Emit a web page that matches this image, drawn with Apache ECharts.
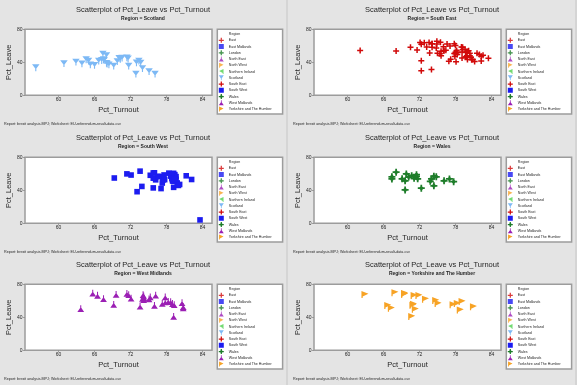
<!DOCTYPE html>
<html><head><meta charset="utf-8">
<script src="https://cdn.jsdelivr.net/npm/echarts@6/dist/echarts.min.js"></script>
<style>html,body{margin:0;padding:0;background:#e4e4e4;}#c{width:577px;height:385px;}</style>
</head><body><div id="c"></div>
<script>
// ---- data ----
const regionNames = ['East','East Midlands','London','North East','North West','Northern Ireland','Scotland','South East','South West','Wales','West Midlands','Yorkshire and The Humber'];
const xTicks = [60, 66, 72, 78, 84];
const yTicks = [0, 40, 80];
const titleText = 'Scatterplot of Pct_Leave vs Pct_Turnout';
const xName = 'Pct_Turnout';
const yName = 'Pct_Leave';
const legendTitle = 'Region';
const footerText = 'Report: brexit analysis.MPJ; Worksheet: EU-referendum-result-data.csv';

const scotland = [[56.2,33.4],[60.9,38.3],[62.9,40.2],[63.9,38.0],[64.6,43.1],[65.0,41.4],[65.3,36.9],[66.0,36.2],[66.7,41.4],[67.2,42.2],[67.4,49.9],[67.5,43.2],[67.6,42.2],[68.0,38.6],[68.0,48.1],[68.1,37.9],[68.4,36.8],[69.2,35.4],[69.8,40.9],[70.1,44.8],[70.3,43.5],[70.6,45.0],[71.4,45.3],[71.6,44.0],[71.7,35.4],[72.9,25.6],[73.0,39.4],[73.4,41.5],[73.7,38.9],[74.0,32.3],[75.1,28.6],[76.1,25.7]];
const southEast = [[76.4,54.6],[77.8,62.5],[77.1,59.9],[78.4,51.8],[78.0,52.1],[76.1,53.9],[74.0,31.4],[75.0,51.0],[75.4,50.3],[77.8,50.7],[83.5,44.9],[73.2,58.4],[75.5,64.2],[76.6,62.2],[74.8,57.3],[78.2,54.2],[78.1,40.7],[80.4,47.9],[79.2,55.1],[73.6,63.9],[74.9,65.4],[76.9,41.2],[82.6,48.4],[71.6,54.9],[74.1,62.4],[72.3,61.9],[77.9,47.1],[76.0,58.8],[72.1,64.1],[80.6,46.1],[73.7,51.4],[82.3,47.4],[79.2,58.1],[72.3,29.7],[70.5,58.1],[72.3,42.0],[78.3,49.5],[79.0,58.6],[76.0,54.0],[74.1,58.2],[80.2,54.0],[74.9,62.2],[62.1,54.3],[78.0,50.3],[80.7,43.2],[68.1,53.8],[78.0,60.3],[79.7,51.9],[74.1,62.5],[80.4,51.0],[79.1,52.5],[72.8,63.8],[79.6,55.7],[79.1,45.1],[80.9,43.3],[82.3,41.7],[80.0,52.8],[79.9,48.0],[79.7,46.3],[81.2,41.1],[79.8,46.6],[77.2,43.8],[80.0,43.3],[75.6,53.5],[75.6,48.0],[81.6,51.0],[82.0,49.4]];
const southWest = [[77.1,42.1],[69.3,54.9],[73.1,38.3],[77.0,56.5],[79.2,43.6],[75.3,58.2],[71.4,59.9],[75.8,54.7],[73.6,63.2],[79.0,51.7],[77.4,52.2],[76.2,52.7],[75.8,42.9],[79.8,48.9],[77.6,58.6],[72.1,58.5],[80.0,45.9],[79.1,53.6],[77.3,48.8],[76.0,61.2],[78.7,57.2],[77.7,52.9],[79.2,60.6],[79.4,59.0],[81.3,57.6],[79.6,56.6],[78.9,59.1],[79.1,51.0],[75.8,61.0],[78.9,54.1],[73.9,44.7],[79.6,53.4],[76.6,57.0],[80.2,47.1],[79.3,53.7],[78.4,60.8],[82.2,53.1],[83.6,4.1]];
const wales = [[68.1,62.0],[71.1,54.6],[70.7,57.6],[69.6,40.5],[74.0,53.7],[74.4,45.4],[71.7,54.0],[69.1,54.0],[74.8,56.4],[72.3,42.5],[73.8,50.9],[67.4,56.4],[77.7,50.4],[71.5,56.8],[70.2,56.0],[74.4,57.1],[77.0,53.7],[67.4,53.7],[69.6,51.5],[69.8,59.8],[76.1,51.5],[71.5,59.0]];
const westMidlands = [[63.7,50.4],[69.2,55.6],[71.7,67.6],[66.5,66.7],[76.0,54.5],[69.6,67.9],[67.5,62.6],[78.3,59.2],[77.3,56.9],[72.1,63.2],[65.7,69.4],[79.3,55.4],[80.8,53.0],[75.1,62.3],[73.6,53.7],[80.6,57.9],[74.0,63.1],[71.4,68.9],[74.3,63.2],[78.7,58.9],[74.2,61.5],[77.8,64.8],[77.8,58.7],[75.3,64.7],[74.1,67.4],[76.2,66.9],[74.2,66.0],[79.0,56.7],[80.8,51.6],[79.2,41.2]];
const yorkshire = [[69.5,68.3],[66.7,54.2],[71.0,55.7],[69.5,69.0],[74.7,60.4],[62.9,67.6],[70.9,54.7],[71.3,49.7],[67.9,69.9],[71.9,66.3],[69.5,67.9],[67.3,51.0],[71.1,66.4],[70.7,41.0],[81.0,52.8],[78.3,56.8],[78.8,48.8],[75.1,56.8],[77.6,55.3],[73.0,62.0],[79.1,59.2]];

const panelRegions = ['Scotland','South East','South West','Wales','West Midlands','Yorkshire and The Humber'];
const panelData = [scotland, southEast, southWest, wales, westMidlands, yorkshire];

// ---- styles ----
const PLUS = 'path://M3,0H5V3H8V5H5V8H3V5H0V3H3Z';
const CROSSD = 'path://M3,0H5V2L6,3H8V5H6L5,6V8H3V6L2,5H0V3H2L3,2Z';
const TENT = 'path://M3.4,0H4.6V3L8,8H0L3.4,3Z';
const FLAGR = 'path://M0,0L8,3.5L1.4,7V9H0Z';
const FLAGL = 'path://M8,0L0,3.5L6.6,7V9H8Z';
const TENTD = 'path://M0,0H8L4.6,5V8H3.4V5Z';
const regionStyle = {
  'East':                     {color:'#d10a0a', symbol:PLUS, size:6},
  'East Midlands':            {color:'#1c1cf0', symbol:'rect', size:5.6},
  'London':                   {color:'#1e7d2a', symbol:CROSSD, size:7},
  'North East':               {color:'#9b1fb4', symbol:TENT, size:6.8},
  'North West':               {color:'#f7a325', symbol:FLAGR, size:7},
  'Northern Ireland':         {color:'#4fd14f', symbol:FLAGL, size:7},
  'Scotland':                 {color:'#7db9f5', symbol:TENTD, size:[7.5,6.8]},
  'South East':               {color:'#d10a0a', symbol:PLUS, size:6},
  'South West':               {color:'#1c1cf0', symbol:'rect', size:5.6},
  'Wales':                    {color:'#1e7d2a', symbol:CROSSD, size:7},
  'West Midlands':            {color:'#9b1fb4', symbol:TENT, size:6.8},
  'Yorkshire and The Humber': {color:'#f7a325', symbol:FLAGR, size:7}
};
const FONT = "'Liberation Sans', Arial, sans-serif";
const TXT = '#262626';
const xMin = 54.4, xMax = 85.6, yMin = 0, yMax = 80;
const colX = [0, 289];
const rowY = [0, 128, 255];

const grids = [], xAxes = [], yAxes = [], series = [], legends = [], titles = [];

panelRegions.forEach((region, i) => {
  const ox = colX[i % 2], oy = rowY[Math.floor(i / 2)];
  const st = regionStyle[region];
  grids.push({left: ox + 25, top: oy + 29.3, width: 187, height: 66, show: true,
    backgroundColor: '#ffffff', borderColor: '#9c9c9c', borderWidth: 1.5});
  xAxes.push({gridIndex: i, type: 'value', min: xMin, max: xMax,
    name: xName, nameLocation: 'middle', nameGap: 10.5,
    nameTextStyle: {fontSize: 7.5, color: TXT, fontFamily: FONT, fontWeight: 500},
    axisLine: {show: false},
    axisTick: {show: true, length: 2, customValues: xTicks, lineStyle: {color: '#8c8c8c', width: 0.8}},
    axisLabel: {customValues: xTicks, fontSize: 5, margin: 2, color: TXT, fontFamily: FONT},
    splitLine: {show: false}});
  yAxes.push({gridIndex: i, type: 'value', min: yMin, max: yMax,
    name: yName, nameLocation: 'middle', nameGap: 11, nameRotate: 90,
    nameTextStyle: {fontSize: 7.5, color: TXT, fontFamily: FONT, fontWeight: 500},
    axisLine: {show: false},
    axisTick: {show: true, length: 2, customValues: yTicks, lineStyle: {color: '#8c8c8c', width: 0.8}},
    axisLabel: {customValues: yTicks, fontSize: 5, margin: 2.5, color: TXT, fontFamily: FONT},
    splitLine: {show: false}});
  series.push({type: 'scatter', name: region, xAxisIndex: i, yAxisIndex: i,
    data: panelData[i], symbol: st.symbol, symbolSize: st.size,
    itemStyle: {color: st.color, opacity: 1}, silent: true});
  titles.push({text: titleText, subtext: 'Region = ' + region,
    left: ox + 143, top: oy + 6, textAlign: 'center', padding: 0, itemGap: 2.5,
    textStyle: {fontSize: 7.5, color: TXT, fontFamily: FONT, fontWeight: 500},
    subtextStyle: {fontSize: 5, color: TXT, fontFamily: FONT, fontWeight: 'bold'}});
  titles.push({text: footerText, left: ox + 4, top: oy + 121.5, padding: 0,
    textStyle: {fontSize: 3.7, color: TXT, fontFamily: FONT, fontWeight: 'normal'}});
  legends.push({orient: 'vertical', left: ox + 217.3, top: oy + 29.3,
    itemWidth: 5, itemHeight: 5, itemGap: 1.25, padding: [2.2, 11, 2.5, 1.5],
    selectedMode: false, backgroundColor: '#ffffff', borderColor: '#9c9c9c', borderWidth: 1.5,
    textStyle: {fontSize: 3.6, color: TXT, fontFamily: FONT},
    data: [legendTitle].concat(regionNames)});
});

// legend-only series (no marks) for regions without a panel and the legend header
[legendTitle].concat(regionNames.filter(r => panelRegions.indexOf(r) < 0)).forEach(name => {
  const st = regionStyle[name];
  series.push({type: 'scatter', name: name, xAxisIndex: 0, yAxisIndex: 0, data: [],
    symbol: st ? st.symbol : 'rect', symbolSize: 5,
    itemStyle: {color: st ? st.color : 'rgba(0,0,0,0)'}});
});

const chart = echarts.init(document.getElementById('c'), null, {renderer: 'canvas', width: 577, height: 385});
chart.setOption({
  animation: false,
  backgroundColor: '#e4e4e4',
  title: titles,
  grid: grids,
  xAxis: xAxes,
  yAxis: yAxes,
  legend: legends,
  series: series,
  graphic: [
    {type: 'line', shape: {x1: 287, y1: 0, x2: 287, y2: 385}, style: {stroke: '#c6c6c6', lineWidth: 1}, silent: true},
    {type: 'line', shape: {x1: 576, y1: 0, x2: 576, y2: 385}, style: {stroke: '#c6c6c6', lineWidth: 1}, silent: true}
  ]
});
</script></body></html>
